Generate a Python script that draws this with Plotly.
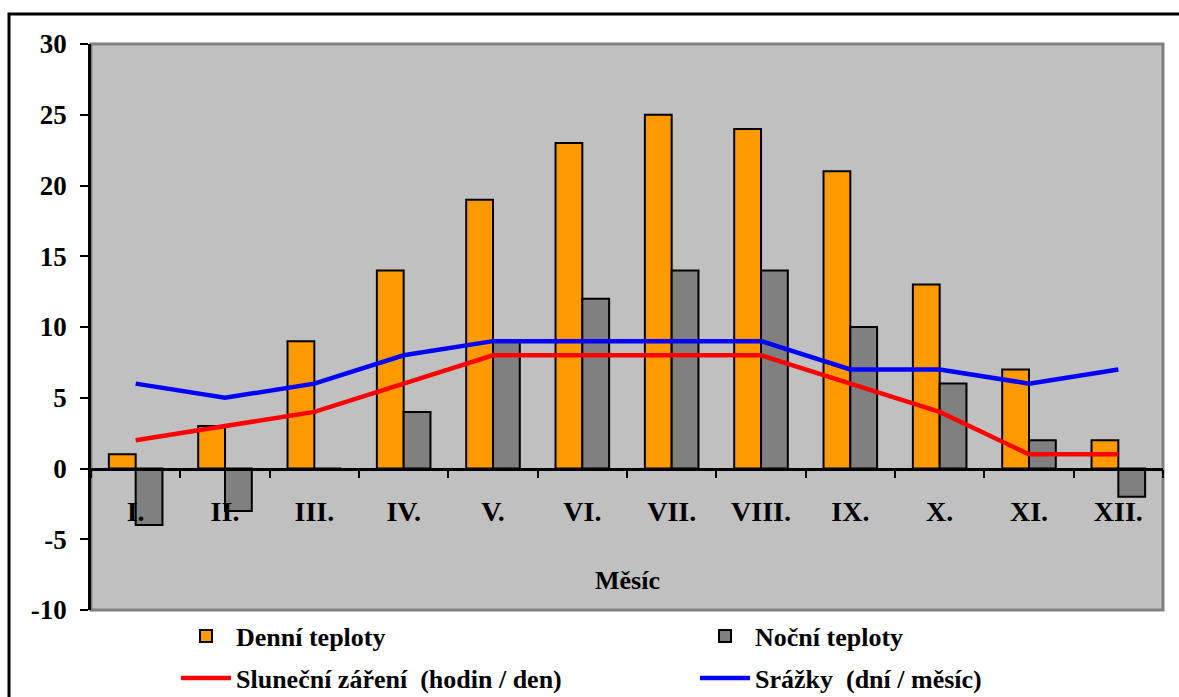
import plotly.graph_objects as go

# Monthly climate values
months = ["I.", "II.", "III.", "IV.", "V.", "VI.", "VII.", "VIII.", "IX.", "X.", "XI.", "XII."]
day_temp = [1, 3, 9, 14, 19, 23, 25, 24, 21, 13, 7, 2]
night_temp = [-4, -3, 0, 4, 9, 12, 14, 14, 10, 6, 2, -2]
sunshine = [2, 3, 4, 6, 8, 8, 8, 8, 6, 4, 1, 1]
rain_days = [6, 5, 6, 8, 9, 9, 9, 9, 7, 7, 6, 7]
y_ticks = [-10, -5, 0, 5, 10, 15, 20, 25, 30]
y_tick_text = ["-10", "-5", "0", "5", "10", "15", "20", "25", "30"]

FONT = "'Liberation Serif', 'Times New Roman', serif"
W, H = 1179, 697
L, R, T, B = 91, 16, 44, 87
PW, PH = W - L - R, H - T - B


def px_x(p):
    return (p - L) / PW


def px_y(p):
    return (H - B - p) / PH


fig = go.Figure()
fig.add_trace(go.Bar(x=months, y=day_temp, name="Denní teploty",
                     marker=dict(color="#FF9900", line=dict(color="black", width=2)),
                     legend="legend"))
fig.add_trace(go.Bar(x=months, y=night_temp, name="Noční teploty",
                     marker=dict(color="#808080", line=dict(color="black", width=2)),
                     legend="legend2"))
fig.add_trace(go.Scatter(x=months, y=sunshine, mode="lines",
                         name="Sluneční záření  (hodin / den)",
                         line=dict(color="#FF0000", width=4.5), legend="legend3"))
fig.add_trace(go.Scatter(x=months, y=rain_days, mode="lines",
                         name="Srážky  (dní / měsíc)",
                         line=dict(color="#0000FF", width=4.5), legend="legend4"))

legend_font = dict(family=FONT, size=26, color="black", weight="bold")


def legend_box(xp, yp):
    return dict(x=px_x(xp), y=px_y(yp), xanchor="left", yanchor="middle",
                bgcolor="rgba(0,0,0,0)", font=legend_font, itemwidth=50)


fig.update_layout(
    width=W, height=H,
    margin=dict(l=L, r=R, t=T, b=B, autoexpand=False),
    paper_bgcolor="white",
    plot_bgcolor="#C0C0C0",
    barmode="group",
    bargap=0.4,
    bargroupgap=0,
    showlegend=True,
    legend=legend_box(176, 636),
    legend2=legend_box(695, 636),
    legend3=legend_box(176, 678),
    legend4=legend_box(695, 678),
    xaxis=dict(
        type="category",
        anchor="free", position=0.25,
        showline=True, linecolor="black", linewidth=2.5,
        ticks="outside", tickson="boundaries", ticklen=8, tickwidth=2, tickcolor="black",
        ticklabelstandoff=17,
        tickfont=dict(family=FONT, size=28, color="black", weight="bold"),
        showgrid=False, zeroline=False,
    ),
    yaxis=dict(
        range=[-10, 30], tickmode="array", tickvals=y_ticks, ticktext=y_tick_text,
        showline=True, linecolor="black", linewidth=2.5,
        ticks="outside", ticklen=8, tickwidth=2, tickcolor="black",
        ticklabelstandoff=8,
        tickfont=dict(family=FONT, size=27, color="black", weight="bold"),
        showgrid=False, zeroline=False,
    ),
    shapes=[
        # grey frame of the plotting area
        dict(type="rect", xref="paper", yref="paper", x0=0, x1=1, y0=0, y1=1,
             line=dict(color="#808080", width=3), layer="below"),
        # outer black frame of the chart
        dict(type="rect", xref="paper", yref="paper",
             x0=px_x(9), x1=px_x(1200), y0=px_y(14), y1=px_y(720),
             line=dict(color="black", width=3)),
    ],
    annotations=[
        dict(text="Měsíc", xref="paper", yref="y", x=0.5, y=-7.9,
             showarrow=False, font=dict(family=FONT, size=26, color="black", weight="bold")),
    ],
)

fig.write_html("out.html")
